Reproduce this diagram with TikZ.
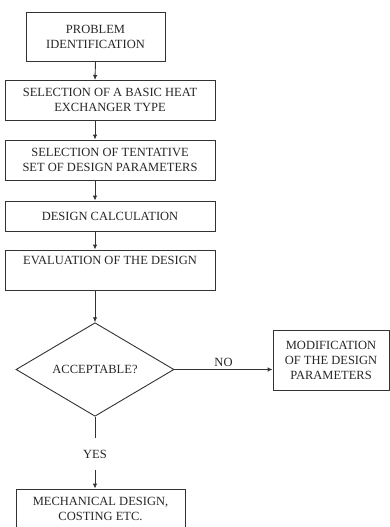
\documentclass[tikz,border=0pt]{standalone}
\usepackage{fontspec}
\setmainfont{Liberation Serif}
\usetikzlibrary{shapes.geometric,arrows.meta}
\begin{document}
\begin{tikzpicture}[x=1pt,y=-1pt,
  line width=0.9pt,
  every node/.style={font=\fontsize{12.5}{15}\selectfont, text=black!85},
  box/.style={draw=black!80, rectangle, align=center, inner sep=0pt},
  dec/.style={draw=black!80, diamond, inner sep=0pt, minimum width=158pt, minimum height=79pt},
  conn/.style={draw=black!80, -{Latex[length=5pt,width=4.5pt]}},
  plain/.style={draw=black!80}]
\useasboundingbox (0,0) rectangle (390,527);
\node[box, minimum width=139pt, minimum height=49pt] (b1) at (95.5,36.5) {PROBLEM\\IDENTIFICATION};
\node[box, minimum width=210pt, minimum height=40pt] (b2) at (110,100) {SELECTION OF A BASIC HEAT\\EXCHANGER TYPE};
\node[box, minimum width=210pt, minimum height=40pt] (b3) at (110,160) {SELECTION OF TENTATIVE\\SET OF DESIGN PARAMETERS};
\node[box, minimum width=210pt, minimum height=30pt] (b4) at (110,216) {DESIGN CALCULATION};
\node[box, minimum width=210pt, minimum height=40pt] (b5) at (110,270) {EVALUATION OF THE DESIGN\\\strut};
\node[dec] (d) at (95,369.5) {ACCEPTABLE?};
\node[box, minimum width=116pt, minimum height=60pt] (m) at (331,360) {MODIFICATION\\OF THE DESIGN\\PARAMETERS};
\node[inner sep=0pt, minimum height=32pt] (yes) at (95,454) {YES};
\node[box, minimum width=169pt, minimum height=40pt] (b6) at (100.5,509) {MECHANICAL DESIGN,\\COSTING ETC.};
\coordinate (c1) at (95,61);
\coordinate (c2) at (95,80);
\draw[conn] (b1.south) -- (c2);
\draw[conn] (b2.south -| c1) -- (b3.north -| c1);
\draw[conn] (b3.south -| c1) -- (b4.north -| c1);
\draw[conn] (b4.south -| c1) -- (b5.north -| c1);
\draw[conn] (b5.south -| c1) -- (d.north);
\draw[conn] (d.east) -- node[above=1pt, inner sep=1pt] (no) {NO} (m.west |- d.east);
\draw[plain] (d.south) -- (yes.north);
\draw[conn] (yes.south) -- (b6.north -| yes.south);
\end{tikzpicture}
\end{document}
